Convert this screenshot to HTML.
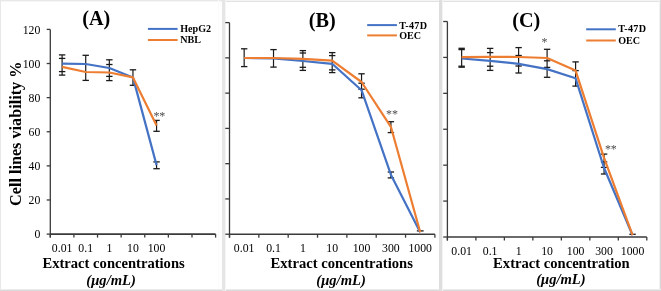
<!DOCTYPE html>
<html><head><meta charset="utf-8"><style>
html,body{margin:0;padding:0;background:#fff;}
body{width:661px;height:291px;overflow:hidden;}
svg{display:block;will-change:transform;font-family:"Liberation Serif",serif;}
</style></head><body>
<svg width="661" height="291" viewBox="0 0 661 291">
<rect width="661" height="291" fill="#fff"/>

<rect x="0" y="0" width="222" height="1" fill="#e8e8e8"/>
<rect x="0" y="1" width="222" height="1" fill="#f7f7f7"/>
<rect x="222" y="0" width="439" height="1" fill="#f4f4f4"/>
<rect x="222" y="1" width="439" height="1" fill="#e2e2e2"/>
<rect x="0" y="0" width="1" height="291" fill="#e8e8e8"/>
<rect x="218" y="0" width="1" height="291" fill="#fafafa"/>
<rect x="660" y="0" width="1" height="291" fill="#d9d9d9"/>
<rect x="659" y="0" width="1" height="291" fill="#f2f2f2"/>
<rect x="0" y="290" width="661" height="1" fill="#d9d9d9"/>
<rect x="0" y="289" width="661" height="1" fill="#ececec"/>
<rect x="222" y="0" width="3" height="291" fill="#e6e6e6"/>
<rect x="225" y="0" width="1" height="291" fill="#f5f5f5"/>
<rect x="439" y="0" width="3" height="291" fill="#dedede"/>
<rect x="442" y="0" width="1" height="291" fill="#f3f3f3"/>

<line x1="50.3" y1="29.4" x2="50.3" y2="237.6" stroke="#3a3a3a" stroke-width="1.3"/>
<line x1="46.7" y1="29.4" x2="50.3" y2="29.4" stroke="#3a3a3a" stroke-width="1.3"/>
<line x1="46.7" y1="63.52" x2="50.3" y2="63.52" stroke="#3a3a3a" stroke-width="1.3"/>
<line x1="46.7" y1="97.63" x2="50.3" y2="97.63" stroke="#3a3a3a" stroke-width="1.3"/>
<line x1="46.7" y1="131.75" x2="50.3" y2="131.75" stroke="#3a3a3a" stroke-width="1.3"/>
<line x1="46.7" y1="165.87" x2="50.3" y2="165.87" stroke="#3a3a3a" stroke-width="1.3"/>
<line x1="46.7" y1="199.98" x2="50.3" y2="199.98" stroke="#3a3a3a" stroke-width="1.3"/>
<line x1="46.7" y1="234.1" x2="50.3" y2="234.1" stroke="#3a3a3a" stroke-width="1.3"/>
<line x1="50.3" y1="234.1" x2="215.6" y2="234.1" stroke="#3a3a3a" stroke-width="1.6"/>
<line x1="50.3" y1="234.1" x2="50.3" y2="237.6" stroke="#3a3a3a" stroke-width="1.3"/>
<line x1="73.91" y1="234.1" x2="73.91" y2="237.6" stroke="#3a3a3a" stroke-width="1.3"/>
<line x1="97.53" y1="234.1" x2="97.53" y2="237.6" stroke="#3a3a3a" stroke-width="1.3"/>
<line x1="121.14" y1="234.1" x2="121.14" y2="237.6" stroke="#3a3a3a" stroke-width="1.3"/>
<line x1="144.76" y1="234.1" x2="144.76" y2="237.6" stroke="#3a3a3a" stroke-width="1.3"/>
<line x1="168.37" y1="234.1" x2="168.37" y2="237.6" stroke="#3a3a3a" stroke-width="1.3"/>
<line x1="191.99" y1="234.1" x2="191.99" y2="237.6" stroke="#3a3a3a" stroke-width="1.3"/>
<line x1="215.6" y1="234.1" x2="215.6" y2="237.6" stroke="#3a3a3a" stroke-width="1.3"/>
<text transform="translate(62.11 251.6) scale(1 1.12)" font-size="11.8" text-anchor="middle" fill="#000">0.01</text>
<text transform="translate(85.72 251.6) scale(1 1.12)" font-size="11.8" text-anchor="middle" fill="#000">0.1</text>
<text transform="translate(109.34 251.6) scale(1 1.12)" font-size="11.8" text-anchor="middle" fill="#000">1</text>
<text transform="translate(132.95 251.6) scale(1 1.12)" font-size="11.8" text-anchor="middle" fill="#000">10</text>
<text transform="translate(156.56 251.6) scale(1 1.12)" font-size="11.8" text-anchor="middle" fill="#000">100</text>
<text transform="translate(40.4 33.5) scale(1 1.12)" font-size="11.8" text-anchor="end" fill="#000">120</text>
<text transform="translate(40.4 67.62) scale(1 1.12)" font-size="11.8" text-anchor="end" fill="#000">100</text>
<text transform="translate(40.4 101.73) scale(1 1.12)" font-size="11.8" text-anchor="end" fill="#000">80</text>
<text transform="translate(40.4 135.85) scale(1 1.12)" font-size="11.8" text-anchor="end" fill="#000">60</text>
<text transform="translate(40.4 169.97) scale(1 1.12)" font-size="11.8" text-anchor="end" fill="#000">40</text>
<text transform="translate(40.4 204.08) scale(1 1.12)" font-size="11.8" text-anchor="end" fill="#000">20</text>
<text transform="translate(40.4 238.2) scale(1 1.12)" font-size="11.8" text-anchor="end" fill="#000">0</text>
<line x1="62.11" y1="54.9" x2="62.11" y2="75.1" stroke="#1a1a1a" stroke-width="1.2"/>
<line x1="58.91" y1="54.9" x2="65.31" y2="54.9" stroke="#1a1a1a" stroke-width="1.3"/>
<line x1="58.91" y1="58.4" x2="65.31" y2="58.4" stroke="#1a1a1a" stroke-width="1.3"/>
<line x1="58.91" y1="71.6" x2="65.31" y2="71.6" stroke="#1a1a1a" stroke-width="1.3"/>
<line x1="58.91" y1="75.1" x2="65.31" y2="75.1" stroke="#1a1a1a" stroke-width="1.3"/>
<line x1="85.72" y1="55.3" x2="85.72" y2="80.4" stroke="#1a1a1a" stroke-width="1.2"/>
<line x1="82.52" y1="55.3" x2="88.92" y2="55.3" stroke="#1a1a1a" stroke-width="1.3"/>
<line x1="82.52" y1="80.4" x2="88.92" y2="80.4" stroke="#1a1a1a" stroke-width="1.3"/>
<line x1="109.34" y1="59.8" x2="109.34" y2="80.6" stroke="#1a1a1a" stroke-width="1.2"/>
<line x1="106.14" y1="59.8" x2="112.54" y2="59.8" stroke="#1a1a1a" stroke-width="1.3"/>
<line x1="106.14" y1="64.5" x2="112.54" y2="64.5" stroke="#1a1a1a" stroke-width="1.3"/>
<line x1="106.14" y1="76.4" x2="112.54" y2="76.4" stroke="#1a1a1a" stroke-width="1.3"/>
<line x1="106.14" y1="80.6" x2="112.54" y2="80.6" stroke="#1a1a1a" stroke-width="1.3"/>
<line x1="132.95" y1="69.8" x2="132.95" y2="85.3" stroke="#1a1a1a" stroke-width="1.2"/>
<line x1="129.75" y1="69.8" x2="136.15" y2="69.8" stroke="#1a1a1a" stroke-width="1.3"/>
<line x1="129.75" y1="85.3" x2="136.15" y2="85.3" stroke="#1a1a1a" stroke-width="1.3"/>
<line x1="156.56" y1="120.4" x2="156.56" y2="131.3" stroke="#1a1a1a" stroke-width="1.2"/>
<line x1="153.36" y1="120.4" x2="159.76" y2="120.4" stroke="#1a1a1a" stroke-width="1.3"/>
<line x1="153.36" y1="131.3" x2="159.76" y2="131.3" stroke="#1a1a1a" stroke-width="1.3"/>
<line x1="156.56" y1="161.9" x2="156.56" y2="168.7" stroke="#1a1a1a" stroke-width="1.2"/>
<line x1="153.36" y1="161.9" x2="159.76" y2="161.9" stroke="#1a1a1a" stroke-width="1.3"/>
<line x1="153.36" y1="168.7" x2="159.76" y2="168.7" stroke="#1a1a1a" stroke-width="1.3"/>
<polyline points="62.11,63.7 85.72,64 109.34,68 132.95,77.4 156.56,165.1" fill="none" stroke="#4472C4" stroke-width="2.2" stroke-linejoin="round"/>
<polyline points="62.11,66.9 85.72,72 109.34,72.5 132.95,77.4 156.56,125.5" fill="none" stroke="#ED7D31" stroke-width="2.2" stroke-linejoin="round"/>
<text x="156.5" y="119.5" font-size="12" text-anchor="middle" fill="#4d4d4d">*</text>
<text x="162.2" y="119.5" font-size="12" text-anchor="middle" fill="#4d4d4d">*</text>
<text x="96.3" y="25" font-size="20.2" font-weight="bold" font-style="normal" text-anchor="middle" fill="#000" >(A)</text>
<line x1="147.9" y1="28.9" x2="177.6" y2="28.9" stroke="#4472C4" stroke-width="2"/>
<line x1="147.9" y1="40" x2="177.6" y2="40" stroke="#ED7D31" stroke-width="2"/>
<text x="180.2" y="32.1" font-size="10.1" font-weight="bold" font-style="normal" text-anchor="start" fill="#000" >HepG2</text>
<text x="180.2" y="43.2" font-size="10.1" font-weight="bold" font-style="normal" text-anchor="start" fill="#000" >NBL</text>
<text x="113.6" y="267.7" font-size="14.6" font-weight="bold" font-style="normal" text-anchor="middle" fill="#000" >Extract concentrations</text>
<text x="111.1" y="284.6" font-size="14.6" font-weight="bold" font-style="italic" text-anchor="middle" fill="#000" >(&#956;g/mL)</text>
<text x="20.6" y="133.8" font-size="16.2" font-weight="bold" font-style="normal" text-anchor="middle" fill="#000" transform="rotate(-90 20.6 133.8)" dominant-baseline="alphabetic">Cell lines viability %</text>
<line x1="229.5" y1="22.6" x2="229.5" y2="237.7" stroke="#3a3a3a" stroke-width="1.3"/>
<line x1="225.3" y1="22.6" x2="229.5" y2="22.6" stroke="#3a3a3a" stroke-width="1.3"/>
<line x1="225.3" y1="57.87" x2="229.5" y2="57.87" stroke="#3a3a3a" stroke-width="1.3"/>
<line x1="225.3" y1="93.13" x2="229.5" y2="93.13" stroke="#3a3a3a" stroke-width="1.3"/>
<line x1="225.3" y1="128.4" x2="229.5" y2="128.4" stroke="#3a3a3a" stroke-width="1.3"/>
<line x1="225.3" y1="163.67" x2="229.5" y2="163.67" stroke="#3a3a3a" stroke-width="1.3"/>
<line x1="225.3" y1="198.93" x2="229.5" y2="198.93" stroke="#3a3a3a" stroke-width="1.3"/>
<line x1="225.3" y1="234.2" x2="229.5" y2="234.2" stroke="#3a3a3a" stroke-width="1.3"/>
<line x1="229.5" y1="234.2" x2="434.9" y2="234.2" stroke="#3a3a3a" stroke-width="1.6"/>
<line x1="229.5" y1="234.2" x2="229.5" y2="237.7" stroke="#3a3a3a" stroke-width="1.3"/>
<line x1="258.84" y1="234.2" x2="258.84" y2="237.7" stroke="#3a3a3a" stroke-width="1.3"/>
<line x1="288.19" y1="234.2" x2="288.19" y2="237.7" stroke="#3a3a3a" stroke-width="1.3"/>
<line x1="317.53" y1="234.2" x2="317.53" y2="237.7" stroke="#3a3a3a" stroke-width="1.3"/>
<line x1="346.87" y1="234.2" x2="346.87" y2="237.7" stroke="#3a3a3a" stroke-width="1.3"/>
<line x1="376.21" y1="234.2" x2="376.21" y2="237.7" stroke="#3a3a3a" stroke-width="1.3"/>
<line x1="405.56" y1="234.2" x2="405.56" y2="237.7" stroke="#3a3a3a" stroke-width="1.3"/>
<line x1="434.9" y1="234.2" x2="434.9" y2="237.7" stroke="#3a3a3a" stroke-width="1.3"/>
<text transform="translate(244.17 251.7) scale(1 1.12)" font-size="11.8" text-anchor="middle" fill="#000">0.01</text>
<text transform="translate(273.51 251.7) scale(1 1.12)" font-size="11.8" text-anchor="middle" fill="#000">0.1</text>
<text transform="translate(302.86 251.7) scale(1 1.12)" font-size="11.8" text-anchor="middle" fill="#000">1</text>
<text transform="translate(332.2 251.7) scale(1 1.12)" font-size="11.8" text-anchor="middle" fill="#000">10</text>
<text transform="translate(361.54 251.7) scale(1 1.12)" font-size="11.8" text-anchor="middle" fill="#000">100</text>
<text transform="translate(390.89 251.7) scale(1 1.12)" font-size="11.8" text-anchor="middle" fill="#000">300</text>
<text transform="translate(420.23 251.7) scale(1 1.12)" font-size="11.8" text-anchor="middle" fill="#000">1000</text>
<line x1="244.17" y1="48.8" x2="244.17" y2="66.6" stroke="#1a1a1a" stroke-width="1.2"/>
<line x1="240.97" y1="48.8" x2="247.37" y2="48.8" stroke="#1a1a1a" stroke-width="1.3"/>
<line x1="240.97" y1="66.6" x2="247.37" y2="66.6" stroke="#1a1a1a" stroke-width="1.3"/>
<line x1="273.51" y1="49.6" x2="273.51" y2="67.1" stroke="#1a1a1a" stroke-width="1.2"/>
<line x1="270.31" y1="49.6" x2="276.71" y2="49.6" stroke="#1a1a1a" stroke-width="1.3"/>
<line x1="270.31" y1="67.1" x2="276.71" y2="67.1" stroke="#1a1a1a" stroke-width="1.3"/>
<line x1="302.86" y1="50.6" x2="302.86" y2="70.4" stroke="#1a1a1a" stroke-width="1.2"/>
<line x1="299.66" y1="50.6" x2="306.06" y2="50.6" stroke="#1a1a1a" stroke-width="1.3"/>
<line x1="299.66" y1="53" x2="306.06" y2="53" stroke="#1a1a1a" stroke-width="1.3"/>
<line x1="299.66" y1="67.3" x2="306.06" y2="67.3" stroke="#1a1a1a" stroke-width="1.3"/>
<line x1="299.66" y1="70.4" x2="306.06" y2="70.4" stroke="#1a1a1a" stroke-width="1.3"/>
<line x1="332.2" y1="52.6" x2="332.2" y2="72.6" stroke="#1a1a1a" stroke-width="1.2"/>
<line x1="329" y1="52.6" x2="335.4" y2="52.6" stroke="#1a1a1a" stroke-width="1.3"/>
<line x1="329" y1="55.6" x2="335.4" y2="55.6" stroke="#1a1a1a" stroke-width="1.3"/>
<line x1="329" y1="69.9" x2="335.4" y2="69.9" stroke="#1a1a1a" stroke-width="1.3"/>
<line x1="329" y1="72.6" x2="335.4" y2="72.6" stroke="#1a1a1a" stroke-width="1.3"/>
<line x1="361.54" y1="73.8" x2="361.54" y2="97.8" stroke="#1a1a1a" stroke-width="1.2"/>
<line x1="358.34" y1="73.8" x2="364.74" y2="73.8" stroke="#1a1a1a" stroke-width="1.3"/>
<line x1="358.34" y1="83.2" x2="364.74" y2="83.2" stroke="#1a1a1a" stroke-width="1.3"/>
<line x1="358.34" y1="89.2" x2="364.74" y2="89.2" stroke="#1a1a1a" stroke-width="1.3"/>
<line x1="358.34" y1="97.8" x2="364.74" y2="97.8" stroke="#1a1a1a" stroke-width="1.3"/>
<line x1="390.89" y1="121.7" x2="390.89" y2="132.6" stroke="#1a1a1a" stroke-width="1.2"/>
<line x1="387.69" y1="121.7" x2="394.09" y2="121.7" stroke="#1a1a1a" stroke-width="1.3"/>
<line x1="387.69" y1="132.6" x2="394.09" y2="132.6" stroke="#1a1a1a" stroke-width="1.3"/>
<line x1="390.89" y1="172" x2="390.89" y2="177.9" stroke="#1a1a1a" stroke-width="1.2"/>
<line x1="387.69" y1="172" x2="394.09" y2="172" stroke="#1a1a1a" stroke-width="1.3"/>
<line x1="387.69" y1="177.9" x2="394.09" y2="177.9" stroke="#1a1a1a" stroke-width="1.3"/>
<line x1="416.83" y1="230.9" x2="423.63" y2="230.9" stroke="#1a1a1a" stroke-width="1.3"/>
<polyline points="244.17,58 273.51,58.3 302.86,61 332.2,63.8 361.54,90.2 390.89,174.7 420.23,232.3" fill="none" stroke="#4472C4" stroke-width="2.2" stroke-linejoin="round"/>
<polyline points="244.17,58 273.51,58 302.86,58.9 332.2,60.7 361.54,82 390.89,126.8 420.23,232.3" fill="none" stroke="#ED7D31" stroke-width="2.2" stroke-linejoin="round"/>
<text x="389.1" y="117.9" font-size="12" text-anchor="middle" fill="#4d4d4d">*</text>
<text x="394.9" y="117.9" font-size="12" text-anchor="middle" fill="#4d4d4d">*</text>
<text x="322.2" y="26.6" font-size="20.2" font-weight="bold" font-style="normal" text-anchor="middle" fill="#000" >(B)</text>
<line x1="367.2" y1="25.1" x2="396.9" y2="25.1" stroke="#4472C4" stroke-width="2"/>
<line x1="367.2" y1="35.4" x2="396.9" y2="35.4" stroke="#ED7D31" stroke-width="2"/>
<text x="399.2" y="28.6" font-size="10.1" font-weight="bold" font-style="normal" text-anchor="start" fill="#000" letter-spacing="0.3">T-47D</text>
<text x="399.2" y="39.2" font-size="10.1" font-weight="bold" font-style="normal" text-anchor="start" fill="#000" >OEC</text>
<text x="341.7" y="267.7" font-size="14.6" font-weight="bold" font-style="normal" text-anchor="middle" fill="#000" >Extract concentrations</text>
<text x="341.05" y="284.6" font-size="14.6" font-weight="bold" font-style="italic" text-anchor="middle" fill="#000" >(&#956;g/mL)</text>
<line x1="447.4" y1="21.5" x2="447.4" y2="240.5" stroke="#3a3a3a" stroke-width="1.3"/>
<line x1="443.2" y1="21.5" x2="447.4" y2="21.5" stroke="#3a3a3a" stroke-width="1.3"/>
<line x1="443.2" y1="57.42" x2="447.4" y2="57.42" stroke="#3a3a3a" stroke-width="1.3"/>
<line x1="443.2" y1="93.33" x2="447.4" y2="93.33" stroke="#3a3a3a" stroke-width="1.3"/>
<line x1="443.2" y1="129.25" x2="447.4" y2="129.25" stroke="#3a3a3a" stroke-width="1.3"/>
<line x1="443.2" y1="165.17" x2="447.4" y2="165.17" stroke="#3a3a3a" stroke-width="1.3"/>
<line x1="443.2" y1="201.08" x2="447.4" y2="201.08" stroke="#3a3a3a" stroke-width="1.3"/>
<line x1="443.2" y1="237" x2="447.4" y2="237" stroke="#3a3a3a" stroke-width="1.3"/>
<line x1="447.4" y1="237" x2="646.8" y2="237" stroke="#3a3a3a" stroke-width="1.6"/>
<line x1="447.4" y1="237" x2="447.4" y2="240.5" stroke="#3a3a3a" stroke-width="1.3"/>
<line x1="475.89" y1="237" x2="475.89" y2="240.5" stroke="#3a3a3a" stroke-width="1.3"/>
<line x1="504.37" y1="237" x2="504.37" y2="240.5" stroke="#3a3a3a" stroke-width="1.3"/>
<line x1="532.86" y1="237" x2="532.86" y2="240.5" stroke="#3a3a3a" stroke-width="1.3"/>
<line x1="561.34" y1="237" x2="561.34" y2="240.5" stroke="#3a3a3a" stroke-width="1.3"/>
<line x1="589.83" y1="237" x2="589.83" y2="240.5" stroke="#3a3a3a" stroke-width="1.3"/>
<line x1="618.31" y1="237" x2="618.31" y2="240.5" stroke="#3a3a3a" stroke-width="1.3"/>
<line x1="646.8" y1="237" x2="646.8" y2="240.5" stroke="#3a3a3a" stroke-width="1.3"/>
<text transform="translate(461.64 254.8) scale(1 1.12)" font-size="11.8" text-anchor="middle" fill="#000">0.01</text>
<text transform="translate(490.13 254.8) scale(1 1.12)" font-size="11.8" text-anchor="middle" fill="#000">0.1</text>
<text transform="translate(518.61 254.8) scale(1 1.12)" font-size="11.8" text-anchor="middle" fill="#000">1</text>
<text transform="translate(547.1 254.8) scale(1 1.12)" font-size="11.8" text-anchor="middle" fill="#000">10</text>
<text transform="translate(575.59 254.8) scale(1 1.12)" font-size="11.8" text-anchor="middle" fill="#000">100</text>
<text transform="translate(604.07 254.8) scale(1 1.12)" font-size="11.8" text-anchor="middle" fill="#000">300</text>
<text transform="translate(632.56 254.8) scale(1 1.12)" font-size="11.8" text-anchor="middle" fill="#000">1000</text>
<line x1="461.64" y1="48.3" x2="461.64" y2="67.2" stroke="#1a1a1a" stroke-width="1.2"/>
<line x1="458.44" y1="48.3" x2="464.84" y2="48.3" stroke="#1a1a1a" stroke-width="1.3"/>
<line x1="458.44" y1="49.6" x2="464.84" y2="49.6" stroke="#1a1a1a" stroke-width="1.3"/>
<line x1="458.44" y1="66.2" x2="464.84" y2="66.2" stroke="#1a1a1a" stroke-width="1.3"/>
<line x1="458.44" y1="67.2" x2="464.84" y2="67.2" stroke="#1a1a1a" stroke-width="1.3"/>
<line x1="490.13" y1="48.4" x2="490.13" y2="70.4" stroke="#1a1a1a" stroke-width="1.2"/>
<line x1="486.93" y1="48.4" x2="493.33" y2="48.4" stroke="#1a1a1a" stroke-width="1.3"/>
<line x1="486.93" y1="52.6" x2="493.33" y2="52.6" stroke="#1a1a1a" stroke-width="1.3"/>
<line x1="486.93" y1="66.2" x2="493.33" y2="66.2" stroke="#1a1a1a" stroke-width="1.3"/>
<line x1="486.93" y1="70.4" x2="493.33" y2="70.4" stroke="#1a1a1a" stroke-width="1.3"/>
<line x1="518.61" y1="47.6" x2="518.61" y2="73" stroke="#1a1a1a" stroke-width="1.2"/>
<line x1="515.41" y1="47.6" x2="521.81" y2="47.6" stroke="#1a1a1a" stroke-width="1.3"/>
<line x1="515.41" y1="55.5" x2="521.81" y2="55.5" stroke="#1a1a1a" stroke-width="1.3"/>
<line x1="515.41" y1="66" x2="521.81" y2="66" stroke="#1a1a1a" stroke-width="1.3"/>
<line x1="515.41" y1="73" x2="521.81" y2="73" stroke="#1a1a1a" stroke-width="1.3"/>
<line x1="547.1" y1="49.3" x2="547.1" y2="77.3" stroke="#1a1a1a" stroke-width="1.2"/>
<line x1="543.9" y1="49.3" x2="550.3" y2="49.3" stroke="#1a1a1a" stroke-width="1.3"/>
<line x1="543.9" y1="60.8" x2="550.3" y2="60.8" stroke="#1a1a1a" stroke-width="1.3"/>
<line x1="543.9" y1="67.4" x2="550.3" y2="67.4" stroke="#1a1a1a" stroke-width="1.3"/>
<line x1="543.9" y1="77.3" x2="550.3" y2="77.3" stroke="#1a1a1a" stroke-width="1.3"/>
<line x1="575.59" y1="61.9" x2="575.59" y2="86.1" stroke="#1a1a1a" stroke-width="1.2"/>
<line x1="572.39" y1="61.9" x2="578.79" y2="61.9" stroke="#1a1a1a" stroke-width="1.3"/>
<line x1="572.39" y1="70.6" x2="578.79" y2="70.6" stroke="#1a1a1a" stroke-width="1.3"/>
<line x1="572.39" y1="86.1" x2="578.79" y2="86.1" stroke="#1a1a1a" stroke-width="1.3"/>
<line x1="604.07" y1="154.1" x2="604.07" y2="174" stroke="#1a1a1a" stroke-width="1.2"/>
<line x1="600.87" y1="154.1" x2="607.27" y2="154.1" stroke="#1a1a1a" stroke-width="1.3"/>
<line x1="600.87" y1="161.9" x2="607.27" y2="161.9" stroke="#1a1a1a" stroke-width="1.3"/>
<line x1="600.87" y1="167.4" x2="607.27" y2="167.4" stroke="#1a1a1a" stroke-width="1.3"/>
<line x1="600.87" y1="174" x2="607.27" y2="174" stroke="#1a1a1a" stroke-width="1.3"/>
<line x1="629.36" y1="234.3" x2="635.76" y2="234.3" stroke="#1a1a1a" stroke-width="1.3"/>
<polyline points="461.64,58.5 490.13,60.9 518.61,63.8 547.1,69.1 575.59,78.3 604.07,168 632.56,235.2" fill="none" stroke="#4472C4" stroke-width="2.2" stroke-linejoin="round"/>
<polyline points="461.64,57.1 490.13,56.9 518.61,57 547.1,58 575.59,70.6 604.07,157.8 632.56,235.2" fill="none" stroke="#ED7D31" stroke-width="2.2" stroke-linejoin="round"/>
<text x="544.4" y="45.9" font-size="12" text-anchor="middle" fill="#4d4d4d">*</text>
<text x="608" y="153.2" font-size="12" text-anchor="middle" fill="#4d4d4d">*</text>
<text x="613.7" y="153.2" font-size="12" text-anchor="middle" fill="#4d4d4d">*</text>
<text x="526.2" y="27.2" font-size="20.2" font-weight="bold" font-style="normal" text-anchor="middle" fill="#000" >(C)</text>
<line x1="586.2" y1="29.3" x2="615.8" y2="29.3" stroke="#4472C4" stroke-width="2"/>
<line x1="586.2" y1="40.5" x2="615.8" y2="40.5" stroke="#ED7D31" stroke-width="2"/>
<text x="618.2" y="32.3" font-size="10.1" font-weight="bold" font-style="normal" text-anchor="start" fill="#000" letter-spacing="0.3">T-47D</text>
<text x="618.2" y="43.6" font-size="10.1" font-weight="bold" font-style="normal" text-anchor="start" fill="#000" >OEC</text>
<text x="561.4" y="267.8" font-size="14.6" font-weight="bold" font-style="normal" text-anchor="middle" fill="#000" >Extract concentration</text>
<text x="560.9" y="284.3" font-size="14.6" font-weight="bold" font-style="italic" text-anchor="middle" fill="#000" >(&#956;g/mL)</text>
</svg>
</body></html>
